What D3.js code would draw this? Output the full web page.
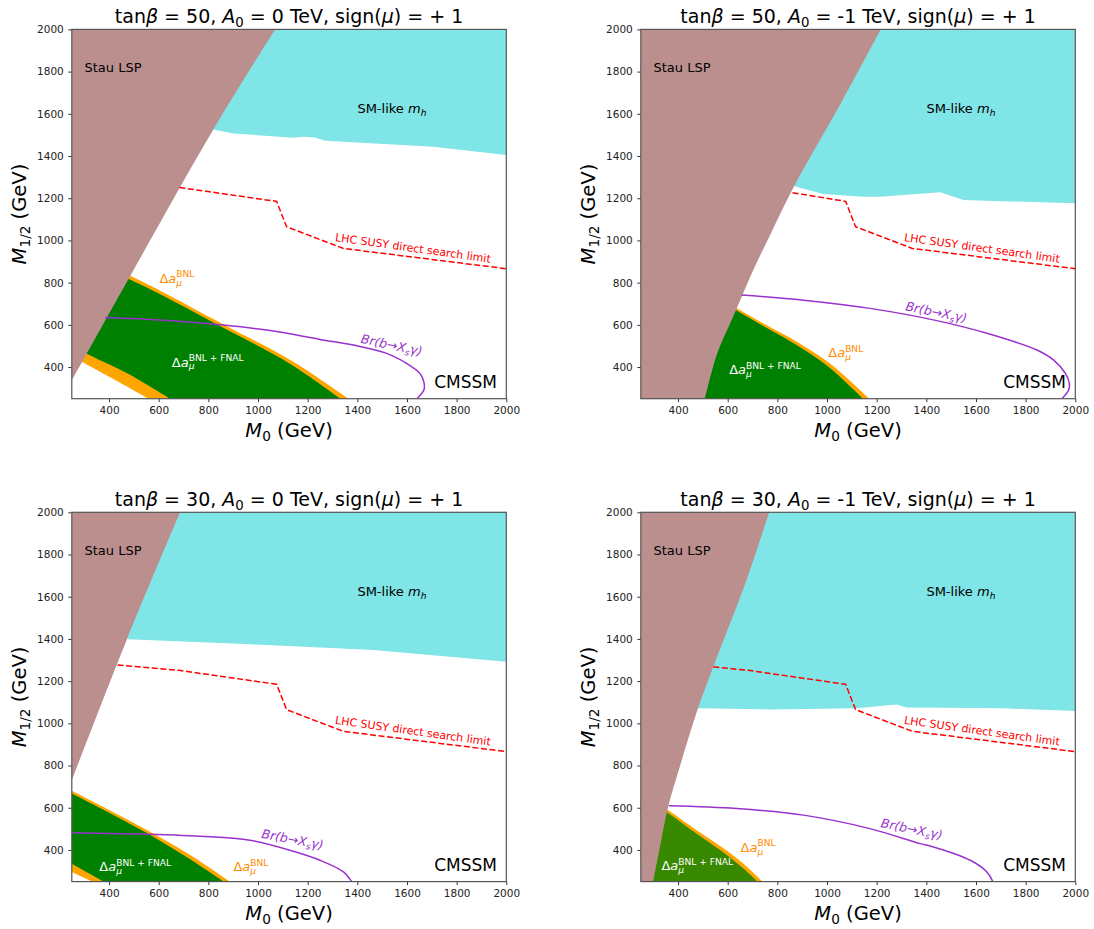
<!DOCTYPE html>
<html><head><meta charset="utf-8">
<script src="https://cdn.jsdelivr.net/npm/d3@7"></script>
<style>
body{margin:0;background:#fff}
svg{display:block}
text{font-family:"DejaVu Sans",sans-serif;white-space:pre}
</style>
</head><body>
<svg id="c" width="1094" height="929"></svg>
<script>
// ---------- data (M0, M1/2 in GeV) ----------
const xTicks = [400, 600, 800, 1000, 1200, 1400, 1600, 1800, 2000];
const yTicks = [400, 600, 800, 1000, 1200, 1400, 1600, 1800, 2000];
const titles = [
  ["50", "0"], ["50", "-1"], ["30", "0"], ["30", "-1"]
];

// Stau LSP boundaries
const stau1 = [[250,335],[475,810],[820,1526],[1069,2000]];
const stau2 = [[508,250],[558,465],[616,623],[662,749],[703,860],[774,1033],[867,1255],[1063,1665],[1216,2000]];
const stau3 = [[250,730],[471,1395],[686,2000]];
const stau4 = [[300,250],[327,414],[360,604],[407,794],[478,1063],[542,1268],[676,1679],[767,2000]];

// SM-like mh lower boundaries
const cyan1 = [[820,1526],[901,1507],[1142,1487],[1183,1491],[1230,1488],[1270,1472],[1706,1444],[2000,1405]];
const cyan2 = [[871,1255],[985,1220],[1146,1207],[1214,1207],[1456,1228],[1550,1191],[2000,1176]];
const cyan3 = [[475,1399],[1035,1371],[1464,1347],[2000,1292]];
const cyan4 = [[478,1071],[770,1066],[1120,1071],[1281,1089],[1321,1075],[1711,1071],[2000,1058]];

// Delta a_mu BNL (2 sigma) and BNL+FNAL boundaries
const bnlUp1  = [[250,960],[478,836],[606,762],[861,602],[1142,425],[1364,250]];
const fnalUp1 = [[250,946],[471,822],[600,749],[855,590],[1130,415],[1332,250]];
const fnalLow1 = [[250,510],[304,468],[471,372],[646,250]];
const bnlLow1  = [[250,452],[290,425],[430,335],[559,250]];
const bnlUp2  = [[560,732],[636,680],[743,607],[878,520],[1012,417],[1170,250]];
const fnalUp2 = [[560,722],[633,670],[740,597],[872,508],[1002,405],[1145,250]];
const bnlUp3  = [[250,680],[431,570],[592,469],[740,367],[887,250]];
const fnalUp3 = [[250,667],[431,557],[585,458],[730,353],[861,250]];
const fnalLow3 = [[250,335],[377,250]];
const bnlLow3  = [[250,296],[331,250]];
const bnlUp4  = [[300,636],[358,590],[475,493],[609,386],[676,322],[741,250]];
const fnalUp4 = [[300,624],[356,579],[470,481],[600,373],[662,313],[720,250]];

// Br(b -> Xs gamma) contours
const bsg1 = [[384,635],[606,623],[861,599],[1035,575],[1250,531],[1384,504],[1518,465],[1599,417],[1652,370],[1668,330],[1668,291],[1640,250]];
const bsg2 = [[656,741],[905,717],[1173,678],[1442,620],[1644,560],[1845,481],[1913,433],[1960,370],[1976,323],[1973,291],[1946,250]];
const bsg3 = [[250,481],[498,476],[766,465],[968,446],[1142,394],[1250,351],[1344,296],[1377,250]];
const bsg4 = [[363,609],[636,596],[905,565],[1173,501],[1375,430],[1415,419],[1577,351],[1644,296],[1668,250]];

// LHC SUSY direct search limit
const lhc1 = [[683,1251],[1075,1185],[1115,1065],[1290,986],[1344,962],[2000,866]];
const lhc2 = [[861,1226],[1075,1185],[1115,1065],[1290,986],[1344,962],[2000,866]];
const lhc3 = [[434,1276],[683,1251],[1075,1185],[1115,1065],[1290,986],[1344,962],[2000,866]];
const lhc4 = [[542,1268],[683,1251],[1075,1185],[1115,1065],[1290,986],[1344,962],[2000,866]];

// label anchors (data coords)
const lblBNL  = [[603,800],[1005,446],[901,300],[652,391]];
const lblFNAL = [[653,402],[606,367],[361,300],[333,303]];
const lblBsg  = [[1535,484,12],[1437,640,11.4],[1136,430,10.7],[1338,479,11.6]];
const lblLHC  = [1622,946,8];

// ---------- layout ----------
const W = 434.5, H = 369.3;
const panels = [
  {L:71.8, T:29.4, stau:stau1, cyan:cyan1, bnlUp:bnlUp1, fnalUp:fnalUp1, fnalLow:fnalLow1, bnlLow:bnlLow1, bsg:bsg1, lhc:lhc1, green:"#008000"},
  {L:640.8, T:29.4, stau:stau2, cyan:cyan2, bnlUp:bnlUp2, fnalUp:fnalUp2, bsg:bsg2, lhc:lhc2, green:"#008000"},
  {L:71.8, T:512.3, stau:stau3, cyan:cyan3, bnlUp:bnlUp3, fnalUp:fnalUp3, fnalLow:fnalLow3, bnlLow:bnlLow3, bsg:bsg3, lhc:lhc3, green:"#008000"},
  {L:640.8, T:512.3, stau:stau4, cyan:cyan4, bnlUp:bnlUp4, fnalUp:fnalUp4, bsg:bsg4, lhc:lhc4, green:"#388800"}
];

const C = {brown:"#bc8f8f", cyan:"#80e5e6", orange:"#ffa500", purple:"#9932cc", red:"#ff0000", lbl:"#ff8c00"};
const svg = d3.select("#c");

function rich(g, parts, x, y, opt) {
  const fs = opt.fs, fill = opt.fill || "#000";
  const grp = g.append("g").attr("transform", `translate(${x},${y}) rotate(${opt.rotate||0})`);
  let cx = 0;
  function put(p, xx) {
    let size = fs, dy = 0;
    if (p.sub) { size = fs*0.7; dy = fs*0.22; }
    if (p.sup) { size = fs*0.7; dy = -fs*0.42; }
    const t = grp.append("text").attr("x", xx).attr("y", dy).attr("font-size", size)
      .attr("fill", fill).attr("font-style", p.i ? "italic" : null).text(p.t);
    return t.node().getComputedTextLength();
  }
  parts.forEach(p => {
    if (p.stack) { const w = Math.max(...p.stack.map(q => put(q, cx))); cx += w; }
    else cx += put(p, cx);
  });
  const shift = opt.anchor === "middle" ? -cx/2 : opt.anchor === "end" ? -cx : 0;
  grp.selectAll("text").attr("x", function(){ return +this.getAttribute("x") + shift; });
  return grp;
}

panels.forEach((P, k) => {
  const x = d3.scaleLinear().domain([250, 2000]).range([P.L, P.L + W]);
  const y = d3.scaleLinear().domain([250, 2000]).range([P.T + H, P.T]);
  const B = P.T + H, R = P.L + W;
  const g = svg.append("g");
  const cid = "clip" + k;
  g.append("clipPath").attr("id", cid).append("rect")
    .attr("x", P.L).attr("y", P.T).attr("width", W).attr("height", H);
  const pg = g.append("g").attr("clip-path", `url(#${cid})`);

  const curve = d3.line().x(d => x(d[0])).y(d => y(d[1])).curve(d3.curveCatmullRom.alpha(0.5));
  const lin = d3.line().x(d => x(d[0])).y(d => y(d[1]));
  const cont = (pts, smooth) => smooth ? "L" + curve(pts).slice(1)
                                       : pts.map(d => "L" + x(d[0]) + "," + y(d[1])).join("");

  // SM-like mh region
  pg.append("path").attr("fill", C.cyan)
    .attr("d", lin(P.cyan) + cont([[2000,2000],[250,2000]], false) + "Z");

  // BNL region (orange) and BNL+FNAL (green)
  let dO = curve(P.bnlUp);
  let dG = curve(P.fnalUp);
  if (P.bnlLow) {
    dO += cont(P.bnlLow.slice().reverse(), true) + "Z";
    dG += cont(P.fnalLow.slice().reverse(), true) + "Z";
  } else {
    dO += cont([[250,250]], false) + "Z";
    dG += cont([[250,250]], false) + "Z";
  }
  pg.append("path").attr("fill", C.orange).attr("d", dO);
  pg.append("path").attr("fill", P.green).attr("d", dG);

  // Stau LSP region
  const st = P.stau;
  let dS = curve(st) + cont([[250,2000]], false);
  if (st[0][1] <= 250) dS += cont([[250,250]], false);
  pg.append("path").attr("fill", C.brown).attr("d", dS + "Z");

  // Br(b->Xs gamma) contour
  pg.append("path").attr("fill", "none").attr("stroke", C.purple).attr("stroke-width", 1.5)
    .attr("d", curve(P.bsg));
  // LHC limit
  pg.append("path").attr("fill", "none").attr("stroke", C.red).attr("stroke-width", 1.5)
    .attr("stroke-dasharray", "6,2.6").attr("d", lin(P.lhc));

  // text labels in plot
  g.append("text").attr("x", P.L + 12.7).attr("y", P.T + 42.3).attr("font-size", 13).text("Stau LSP");
  rich(g, [{t:"SM-like "},{t:"m",i:1},{t:"h",i:1,sub:1}], P.L + 285.6, P.T + 84, {fs:13});
  g.append("text").attr("x", R - 9.3).attr("y", B - 10.3).attr("font-size", 17)
    .attr("text-anchor", "end").text("CMSSM");
  rich(g, [{t:"LHC SUSY direct search limit"}], x(lblLHC[0]), y(lblLHC[1]),
    {fs:11, fill:C.red, anchor:"middle", rotate:lblLHC[2]});
  const bl = lblBsg[k];
  rich(g, [{t:"Br(b",i:1},{t:"\u2192"},{t:"X",i:1},{t:"s",i:1,sub:1},{t:"\u03b3)",i:1}],
    x(bl[0]), y(bl[1]), {fs:12.5, fill:C.purple, anchor:"middle", rotate:bl[2]});
  rich(g, [{t:"\u0394"},{t:"a",i:1},{stack:[{t:"\u03bc",i:1,sub:1},{t:"BNL",sup:1}]}],
    x(lblBNL[k][0]), y(lblBNL[k][1]), {fs:13, fill:C.lbl});
  rich(g, [{t:"\u0394"},{t:"a",i:1},{stack:[{t:"\u03bc",i:1,sub:1},{t:"BNL + FNAL",sup:1}]}],
    x(lblFNAL[k][0]), y(lblFNAL[k][1]), {fs:13, fill:"#fff"});

  // axes
  const ax = g.append("g").attr("transform", `translate(0,${B})`)
    .call(d3.axisBottom(x).tickValues(xTicks).tickSize(3.5).tickPadding(4.5).tickFormat(d3.format("d")));
  const ay = g.append("g").attr("transform", `translate(${P.L},0)`)
    .call(d3.axisLeft(y).tickValues(yTicks).tickSize(3.5).tickPadding(4.5).tickFormat(d3.format("d")));
  [ax, ay].forEach(a => {
    a.select(".domain").remove();
    a.attr("font-family", null).attr("font-size", null);
    a.selectAll("line").attr("stroke", "#333");
    a.selectAll("text").attr("font-size", 10.5).attr("fill", "#222");
  });
  g.append("rect").attr("x", P.L).attr("y", P.T).attr("width", W).attr("height", H)
    .attr("fill", "none").attr("stroke", "#555").attr("stroke-width", 1.2);

  // titles and axis labels
  const tb = titles[k];
  rich(g, [{t:"tan"},{t:"\u03b2",i:1},{t:" = " + tb[0] + ", "},{t:"A",i:1},{t:"0",sub:1},
           {t:" = " + tb[1] + " TeV, sign("},{t:"\u03bc",i:1},{t:") = + 1"}],
    P.L + W/2, P.T - 6.7, {fs:19, anchor:"middle"});
  rich(g, [{t:"M",i:1},{t:"0",sub:1},{t:" (GeV)"}], P.L + W/2, B + 38, {fs:19.5, anchor:"middle"});
  rich(g, [{t:"M",i:1},{t:"1/2",sub:1},{t:" (GeV)"}], P.L - 46, P.T + H/2, {fs:19.5, anchor:"middle", rotate:-90});
});
</script>
</body></html>
